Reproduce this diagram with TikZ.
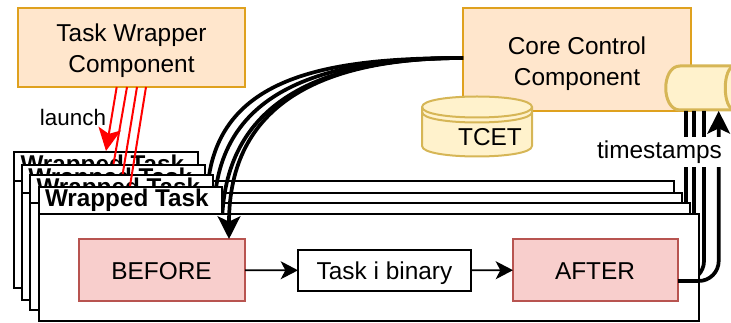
\documentclass[tikz,border=0pt]{standalone}
\usepackage{fontspec}
\setmainfont{Liberation Sans}
\usetikzlibrary{arrows.meta}
\definecolor{orF}{HTML}{FFE6CC}\definecolor{orD}{HTML}{DFA11E}
\definecolor{reF}{HTML}{F8CECC}\definecolor{reD}{HTML}{B85450}
\definecolor{yeF}{HTML}{FFF2CC}\definecolor{yeD}{HTML}{D6B656}
\newcommand\bx[7]{\pgfmathsetmacro\bw{(#5-#3)*0.75}\pgfmathsetmacro\bh{(#6-#4)*0.75}%
 \node[#1,minimum width=\bw pt,minimum height=\bh pt,anchor=north west] (#2) at (#3,#4) {#7};}
\tikzset{
 x=0.75pt,y=-0.75pt,
 base/.style={inner sep=0pt,outer sep=0pt,align=center,font=\fontsize{18.3}{23}\selectfont},
 compbox/.style={base,draw=orD,fill=orF,line width=1.5pt},
 winbox/.style={base,draw=black,fill=white,line width=1.5pt},
 wraptext/.style={base,anchor=west,font=\fontsize{18.2}{22}\bfseries\selectfont},
 phasebox/.style={base,draw=reD,fill=reF,line width=1.5pt},
 binbox/.style={base,draw=black,fill=white,line width=1.5pt},
 redline/.style={draw=red,line width=1.5pt},
 ctrl/.style={draw=black,line width=2.8pt},
 stamp/.style={draw=black,line width=2.8pt,rounded corners=15pt},
 bighead/.style={-{Stealth[length=17pt,width=17pt,inset=4pt]}},
 smallhead/.style={-{Stealth[length=13pt,width=13.5pt,inset=3.5pt]}},
 flow/.style={draw=black,line width=1.3pt,smallhead},
 store/.style={draw=yeD,fill=yeF,line width=1.5pt},
 cylstore/.style={draw=yeD,fill=yeF,line width=2.25pt},
}
\begin{document}
\begin{tikzpicture}
\useasboundingbox (0,0) rectangle (731,323);
\clip (0,0) rectangle (731,323);
\bx{compbox}{wrapper}{18}{8}{245}{87}{}
\node[base] (wrapperT) at (131.5,50.5) {Task Wrapper\\Component};
\bx{compbox}{core}{463}{8}{691}{111}{}
\node[base] (coreT) at (577,63.5) {Core Control\\Component};
% TCET database
\draw[store] (422,107) .. controls (422,93) and (532,93) .. (532,107) -- (532,146)
  .. controls (532,160) and (422,160) .. (422,146) -- cycle;
\draw[store,fill=none] (422,107) .. controls (422,121) and (532,121) .. (532,107);
\draw[store,fill=none] (422,112) .. controls (422,126) and (532,126) .. (532,112);
\node[base] (tcet) at (490,137) {TCET};
% timestamp store
\draw[cylstore] (680,66) -- (740,66) -- (740,110) -- (680,110)
  .. controls (661,110) and (661,66) .. (680,66) -- cycle;
\draw[cylstore,fill=none] (735,66) .. controls (722,66) and (722,110) .. (735,110);
\coordinate (cyl) at (718.7,111);
\coordinate (corew) at (463,58);
\node[base,font=\fontsize{16.8}{20}\selectfont] (launch) at (73,117) {launch};
% layered windows, back to front
\foreach \i/\l/\t/\tr/\b/\r/\bot/\wx/\rx/\ry/\cx/\cy/\sx in
 {1/14/152/197.7/181/674/288/116.7/106/151/207/203/686,
  2/22/165/205/193/682/300/127/113.5/164/214/216/694,
  3/30/175/213/203/690/310/137/122.7/174/222/227/704}{
  \bx{winbox}{win\i}{\l}{\b}{\r}{\bot}{}
  \bx{winbox}{ttl\i}{\l}{\t}{\tr}{\b}{}
  \pgfmathsetmacro\tx{\l+6.5}
  \pgfmathsetmacro\ty{(\t+\b)/2}
  \node[wraptext] (wt\i) at (\tx,\ty) {Wrapped Task};
  \coordinate (rs\i) at (\wx,87);
  \coordinate (re\i) at (\rx,\ry);
  \ifnum\i=1
    \draw[redline,bighead] (rs\i) -- (re\i);
  \else
    \draw[redline] (rs\i) -- (re\i);
  \fi
  \coordinate (ce\i) at (\cx,\cy);
  \coordinate (cc\i) at (\cx,{\cy-125});
  \draw[ctrl] (corew) .. controls (320,58) and (cc\i) .. (ce\i);
  \coordinate (se\i) at (\sx,111);
  \coordinate (sb\i) at (\sx,{\bot-29});
  \coordinate (ss\i) at (\r,{\bot-29});
  \draw[stamp] (ss\i) -- (sb\i) -- (se\i);
}
% front window
\bx{winbox}{win4}{38.5}{214}{699}{321.5}{}
\bx{winbox}{ttl4}{38.5}{187}{221.7}{214}{}
\node[wraptext] (wt4) at (45,200.5) {Wrapped Task};
\coordinate (rs4) at (146,87);\coordinate (re4) at (130,186);
\draw[redline] (rs4) -- (re4);
\bx{phasebox}{before}{79}{239}{245}{301}{}
\node[base] (beforeT) at (161.5,271) {BEFORE};
\bx{binbox}{binary}{298}{250}{471}{291}{}
\node[base] (binaryT) at (384.5,273) {Task i binary};
\bx{phasebox}{after}{513}{239}{678}{301}{}
\node[base] (afterT) at (595,271) {AFTER};
\draw[flow] (before) -- (binary);
\draw[flow] (binary) -- (after);
\coordinate (bt) at (229,239);
\draw[ctrl,bighead] (corew) .. controls (320,58) and (229,105) .. (bt);
\coordinate (aft) at (678,281);
\coordinate (cor) at (718.7,281);
\draw[stamp,bighead] (aft) -- (cor) -- (cyl);
\node[base,fill=white,inner sep=1pt,minimum height=22.5pt] (ts) at (659.5,152.5) {timestamps};
\end{tikzpicture}
\end{document}
